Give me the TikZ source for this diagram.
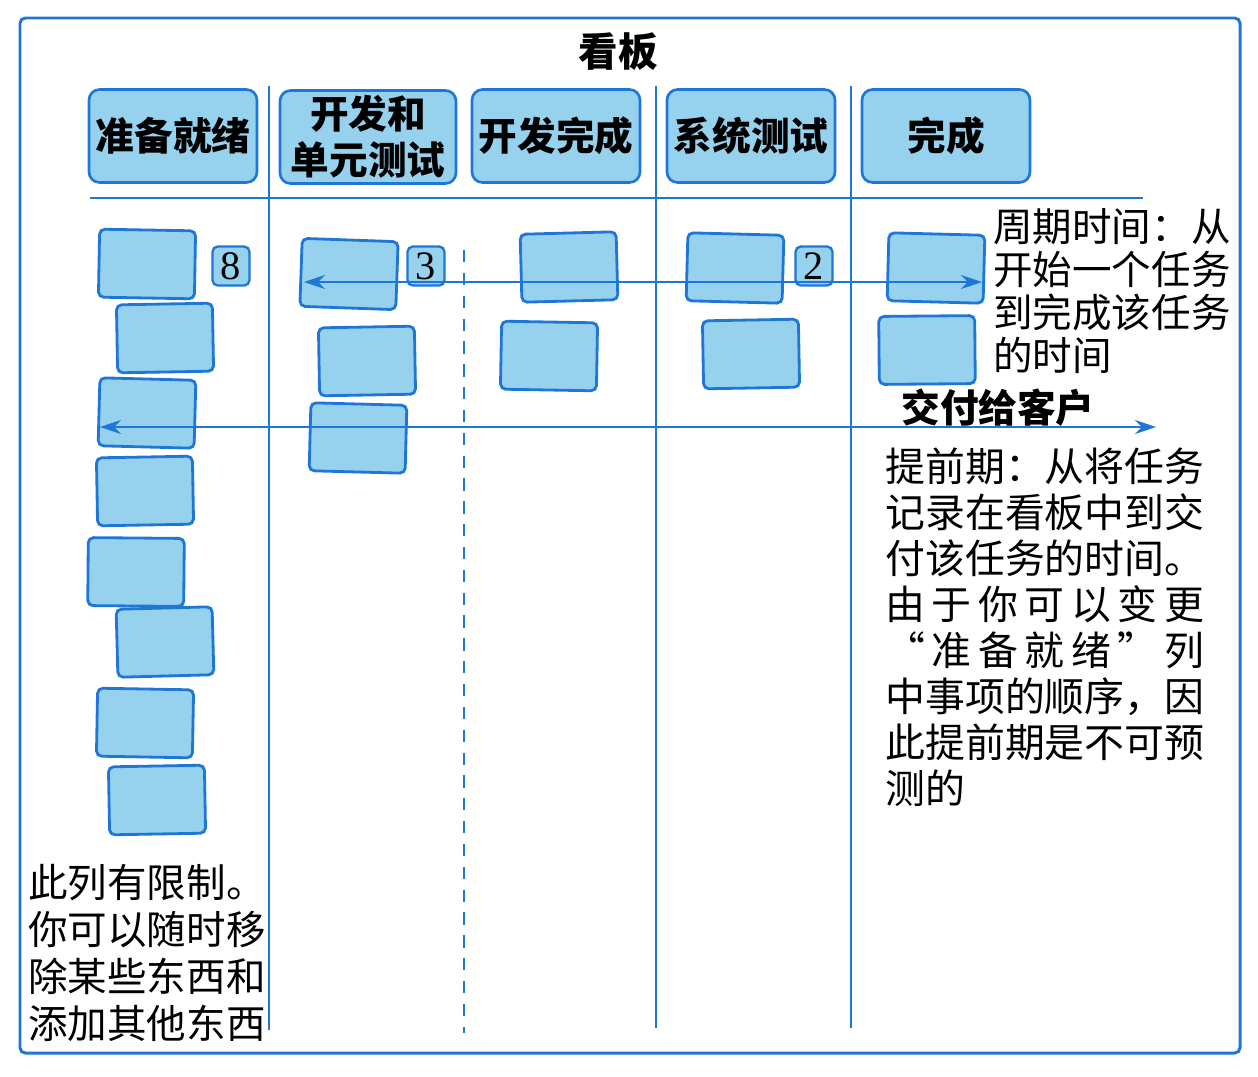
\documentclass[tikz,border=0pt]{standalone}
\usepackage{fontspec}
\setmainfont{Noto Sans CJK SC}
\newfontfamily\numfont{Liberation Serif}
\usetikzlibrary{arrows.meta}
\definecolor{kbblue}{RGB}{30,118,214}
\definecolor{kbfill}{RGB}{150,210,238}

\begin{document}
\begin{tikzpicture}[x=0.02cm,y=-0.02cm,
        lane/.style={kbblue,line width=1.4pt},
        colhead/.style={draw=kbblue,fill=kbfill,line width=1.5pt,rounded corners=6pt,minimum width=3.36cm,minimum height=1.86cm,inner sep=1pt,align=center,font=\fontsize{22}{26}\selectfont\bfseries},
        card/.style={draw=kbblue,fill=kbfill,line width=1.6pt,rounded corners=3pt,minimum width=1.92cm,minimum height=1.36cm},
        wip/.style={draw=kbblue,fill=kbfill,line width=1.3pt,rounded corners=3pt,minimum width=0.74cm,minimum height=0.78cm,inner sep=0pt,font=\numfont\fontsize{23}{23}\selectfont},
        remark/.style={align=left,anchor=north west,inner sep=0pt},
        flow/.style={kbblue,line width=1.3pt,{Stealth[length=12pt,width=8pt]}-{Stealth[length=12pt,width=8pt]}}]
                \useasboundingbox (0,0) rectangle (1258,1076);
                \draw[kbblue,line width=1.7pt,rounded corners=3pt] (20,18) rectangle (1240,1053);

                \node[font=\fontsize{22.5}{24}\selectfont\bfseries] (title) at (618,52) {看板};

                \node[colhead] (ready) at (173,136) {准备就绪};
                \node[colhead,minimum width=3.52cm] (dev) at (368,137) {开发和\\单元测试};
                \node[colhead] (devdone) at (556,136) {开发完成};
                \node[colhead] (systest) at (751,136) {系统测试};
                \node[colhead] (done) at (946,136) {完成};

                \draw[lane] (90,198) -- (1143,198);
                \draw[lane] (269,86) -- (269,1030);
                \draw[lane,dash pattern=on 7pt off 6pt] (464,250) -- (464,1033);
                \draw[lane] (656,86) -- (656,1028);
                \draw[lane] (851,86) -- (851,1028);

                \node[card,rotate=-1] (r1) at (147,264) {};
                \node[card,rotate=1] (r2) at (165,338) {};
                \node[card,rotate=-1.5] (r3) at (147,413) {};
                \node[card,rotate=1] (r4) at (145,491) {};
                \node[card,rotate=-0.5] (r5) at (136,572) {};
                \node[card,rotate=1.5] (r6) at (165,642) {};
                \node[card,rotate=-1] (r7) at (145,723) {};
                \node[card,rotate=1] (r8) at (157,800) {};

                \node[card,rotate=-2] (d1) at (349,274) {};
                \node[card,rotate=1] (d2) at (367,361) {};
                \node[card,rotate=-1.5] (d3) at (358,438) {};

                \node[card,rotate=1.5] (c1) at (569,267) {};
                \node[card,rotate=-1] (c2) at (549,356) {};

                \node[card,rotate=-1.5] (s1) at (735,268) {};
                \node[card,rotate=1] (s2) at (751,354) {};

                \node[card,rotate=-1.5] (f1) at (936,268) {};
                \node[card,rotate=0.5] (f2) at (927,350) {};

                \node[wip] (wip8) at (231,266) {8};
                \node[wip] (wip3) at (426,266) {3};
                \node[wip] (wip2) at (814,266) {2};

                \coordinate (ct1) at (304,282);
                \coordinate (ct2) at (982,282);
                \draw[flow] (ct1) -- (ct2);

                \coordinate (lt1) at (100,427);
                \coordinate (lt2) at (1156,427);
                \draw[flow] (lt1) -- (lt2);

                \node[remark,font=\fontsize{22.5}{24.5}\selectfont] (cycle) at (993,208) {周期时间：从\\开始一个任务\\到完成该任务\\的时间};
                \node[font=\fontsize{22}{24}\selectfont\bfseries] (deliver) at (998,408) {交付给客户};
                \node[remark,font=\fontsize{22.7}{26.2}\selectfont] (lead) at (885,447) {提前期：从将任务\\记录在看板中到交\\付该任务的时间。\\\makebox[8em][s]{由\hfill 于\hfill 你\hfill 可\hfill 以\hfill 变\hfill 更}\\\makebox[8em][s]{“\hfill 准\hfill 备\hfill 就\hfill 绪\hfill ”\hfill 列}\\中事项的顺序，因\\此提前期是不可预\\测的};
                \node[remark,font=\fontsize{22.5}{26.8}\selectfont] (limit) at (28,864) {此列有限制。\\你可以随时移\\除某些东西和\\添加其他东西};
\end{tikzpicture}
\end{document}
